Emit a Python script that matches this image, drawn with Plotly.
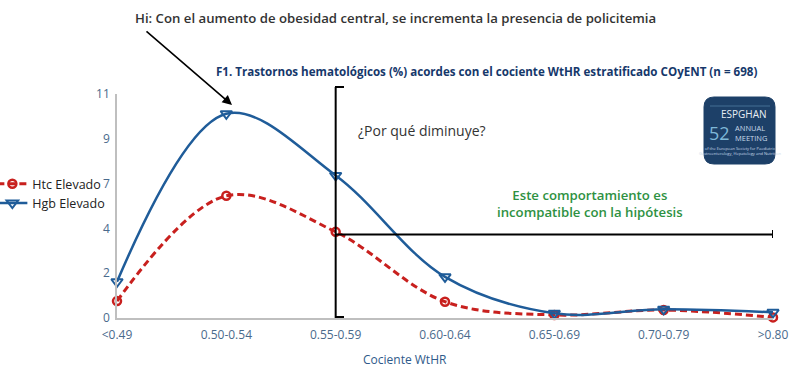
import plotly.graph_objects as go

categories = ["<0.49", "0.50-0.54", "0.55-0.59", "0.60-0.64", "0.65-0.69", "0.70-0.79", ">0.80"]
htc_values = [0.83, 6.0, 4.23, 0.80, 0.15, 0.39, 0.03]
hgb_values = [1.78, 10.03, 7.0, 2.02, 0.23, 0.43, 0.28]
ytick_vals = [0, 2.2, 4.4, 6.6, 8.8, 11]
ytick_text = ["0", "2", "4", "7", "9", "11"]
threshold_level = 4.1

xpos = list(range(len(categories)))
BLUE = "#1F5C99"
RED = "#C8201E"
TICK = "#4A6A8C"
FONT = "Open Sans"

fig = go.Figure()
fig.add_trace(go.Scatter(
    x=xpos, y=htc_values, name="Htc Elevado", mode="lines+markers",
    line=dict(color=RED, width=3, dash="7px,4px", shape="spline", smoothing=1.0),
    marker=dict(symbol="circle-open", size=8, color=RED, line=dict(width=2.5)),
    cliponaxis=False,
))
fig.add_trace(go.Scatter(
    x=xpos, y=hgb_values, name="Hgb Elevado", mode="lines+markers",
    line=dict(color=BLUE, width=2.5, shape="spline", smoothing=1.0),
    marker=dict(symbol="triangle-down-open", size=10, color=BLUE, line=dict(width=2)),
    cliponaxis=False,
))

fig.update_layout(
    width=800, height=379,
    margin=dict(l=117, r=27, t=94, b=61, autoexpand=False),
    paper_bgcolor="white", plot_bgcolor="white",
    font=dict(family=FONT, color="#333"),
    showlegend=True,
    legend=dict(x=-0.19, y=0.555, xanchor="left", yanchor="middle",
                font=dict(family=FONT, size=12.5, color="#222"),
                itemwidth=30, tracegroupgap=0, bgcolor="rgba(0,0,0,0)"),
    xaxis=dict(range=[0, 6], tickvals=xpos, ticktext=categories, showgrid=False,
               zeroline=False, showline=True, linecolor="#BFBFBF", linewidth=1.5,
               ticks="outside", ticklen=5, tickcolor="rgba(0,0,0,0)",
               tickfont=dict(family=FONT, size=12, color=TICK)),
    yaxis=dict(range=[0, 11], tickvals=ytick_vals, ticktext=ytick_text, showgrid=False,
               zeroline=False, showline=True, linecolor="#BFBFBF", linewidth=1.5,
               ticks="outside", ticklen=3, tickcolor="rgba(0,0,0,0)",
               tickfont=dict(family=FONT, size=12, color=TICK)),
)

def px_to_paper_x(px):
    return (px - 117) / 656.0

def px_to_paper_y(py):
    return (318 - py) / 224.0

# vertical reference line at 0.55-0.59
fig.add_shape(type="line", xref="x", yref="paper", x0=2, x1=2, y0=0, y1=px_to_paper_y(87),
              line=dict(color="black", width=2))
fig.add_shape(type="line", xref="paper", yref="paper",
              x0=px_to_paper_x(335), x1=px_to_paper_x(344), y0=px_to_paper_y(87), y1=px_to_paper_y(87),
              line=dict(color="black", width=2))
fig.add_shape(type="line", xref="paper", yref="paper",
              x0=px_to_paper_x(335), x1=px_to_paper_x(344), y0=px_to_paper_y(317), y1=px_to_paper_y(317),
              line=dict(color="black", width=2))
# horizontal line
fig.add_shape(type="line", xref="x", yref="y", x0=2, x1=6, y0=threshold_level, y1=threshold_level,
              line=dict(color="black", width=2))
fig.add_shape(type="line", xref="x", yref="paper", x0=6, x1=6,
              y0=px_to_paper_y(238), y1=px_to_paper_y(230), line=dict(color="black", width=2))

# Hi text and arrow
fig.add_annotation(xref="paper", yref="paper", x=px_to_paper_x(395), y=px_to_paper_y(18),
                   text="Hi: Con el aumento de obesidad central, se incrementa la presencia de policitemia",
                   showarrow=False, font=dict(family=FONT, size=13.2, color="#333", weight=600),
                   xanchor="center", yanchor="middle")
fig.add_annotation(xref="paper", yref="paper", x=px_to_paper_x(232), y=px_to_paper_y(105),
                   ax=145 - 232, ay=30 - 105, axref="pixel", ayref="pixel", text="",
                   showarrow=True, arrowhead=2, arrowsize=1.2, arrowwidth=1.6, arrowcolor="black")
# F1 title
fig.add_annotation(xref="paper", yref="paper", x=px_to_paper_x(487), y=px_to_paper_y(72),
                   text="F1. Trastornos hematológicos (%) acordes con el cociente WtHR estratificado COyENT (n = 698)",
                   showarrow=False, font=dict(family=FONT, size=11.6, color="#16386B", weight=700),
                   xanchor="center", yanchor="middle")
# question
fig.add_annotation(xref="paper", yref="paper", x=px_to_paper_x(356), y=px_to_paper_y(130),
                   text="¿Por qué diminuye?", showarrow=False,
                   font=dict(family=FONT, size=14, color="#333"), xanchor="left", yanchor="middle")
# green note
fig.add_annotation(xref="paper", yref="paper", x=px_to_paper_x(590), y=px_to_paper_y(203),
                   text="Este comportamiento es<br>incompatible con la hipótesis", showarrow=False,
                   font=dict(family=FONT, size=13.2, color="#2E9142", weight=600),
                   xanchor="center", yanchor="middle", align="center")
# x-axis title
fig.add_annotation(xref="paper", yref="paper", x=px_to_paper_x(405), y=px_to_paper_y(359),
                   text="Cociente WtHR", showarrow=False,
                   font=dict(family=FONT, size=12, color="#2F5A8A"), xanchor="center", yanchor="middle")

# ESPGHAN logo
x0, x1, y0, y1, r = 704, 775, 97, 164, 10
X = lambda p: px_to_paper_x(p)
Y = lambda p: px_to_paper_y(p)
path = (f"M {X(x0+r)},{Y(y0)} L {X(x1-r)},{Y(y0)} Q {X(x1)},{Y(y0)} {X(x1)},{Y(y0+r)} "
        f"L {X(x1)},{Y(y1-r)} Q {X(x1)},{Y(y1)} {X(x1-r)},{Y(y1)} L {X(x0+r)},{Y(y1)} "
        f"Q {X(x0)},{Y(y1)} {X(x0)},{Y(y1-r)} L {X(x0)},{Y(y0+r)} Q {X(x0)},{Y(y0)} {X(x0+r)},{Y(y0)} Z")
fig.add_shape(type="path", xref="paper", yref="paper", path=path,
              fillcolor="#1D4068", line=dict(color="#1D4068", width=1))
fig.add_shape(type="line", xref="paper", yref="paper", x0=X(710), x1=X(770), y0=Y(106), y1=Y(106),
              line=dict(color="#6E9CC0", width=0.5))
fig.add_annotation(xref="paper", yref="paper", x=X(744), y=Y(114), text="ESPGHAN", showarrow=False,
                   font=dict(family=FONT, size=10, color="#E8EEF5"), xanchor="center", yanchor="middle")
fig.add_annotation(xref="paper", yref="paper", x=X(707), y=Y(133), text="52", showarrow=False,
                   font=dict(family=FONT, size=18, color="#7FB8D8"), xanchor="left", yanchor="middle")
fig.add_annotation(xref="paper", yref="paper", x=X(733), y=Y(133), text="ANNUAL<br>MEETING",
                   showarrow=False, font=dict(family=FONT, size=7.5, color="#C8D9E8"),
                   xanchor="left", yanchor="middle", align="left")
fig.add_annotation(xref="paper", yref="paper", x=X(740), y=Y(151),
                   text="of the European Society for Paediatric<br>Gastroenterology, Hepatology and Nutrition",
                   showarrow=False, font=dict(family=FONT, size=4, color="#C8D9E8"),
                   xanchor="center", yanchor="middle", align="center")

fig.write_html("out.html", config={"displayModeBar": False},
               post_script="document.body.style.margin='0';document.body.style.padding='0';")
